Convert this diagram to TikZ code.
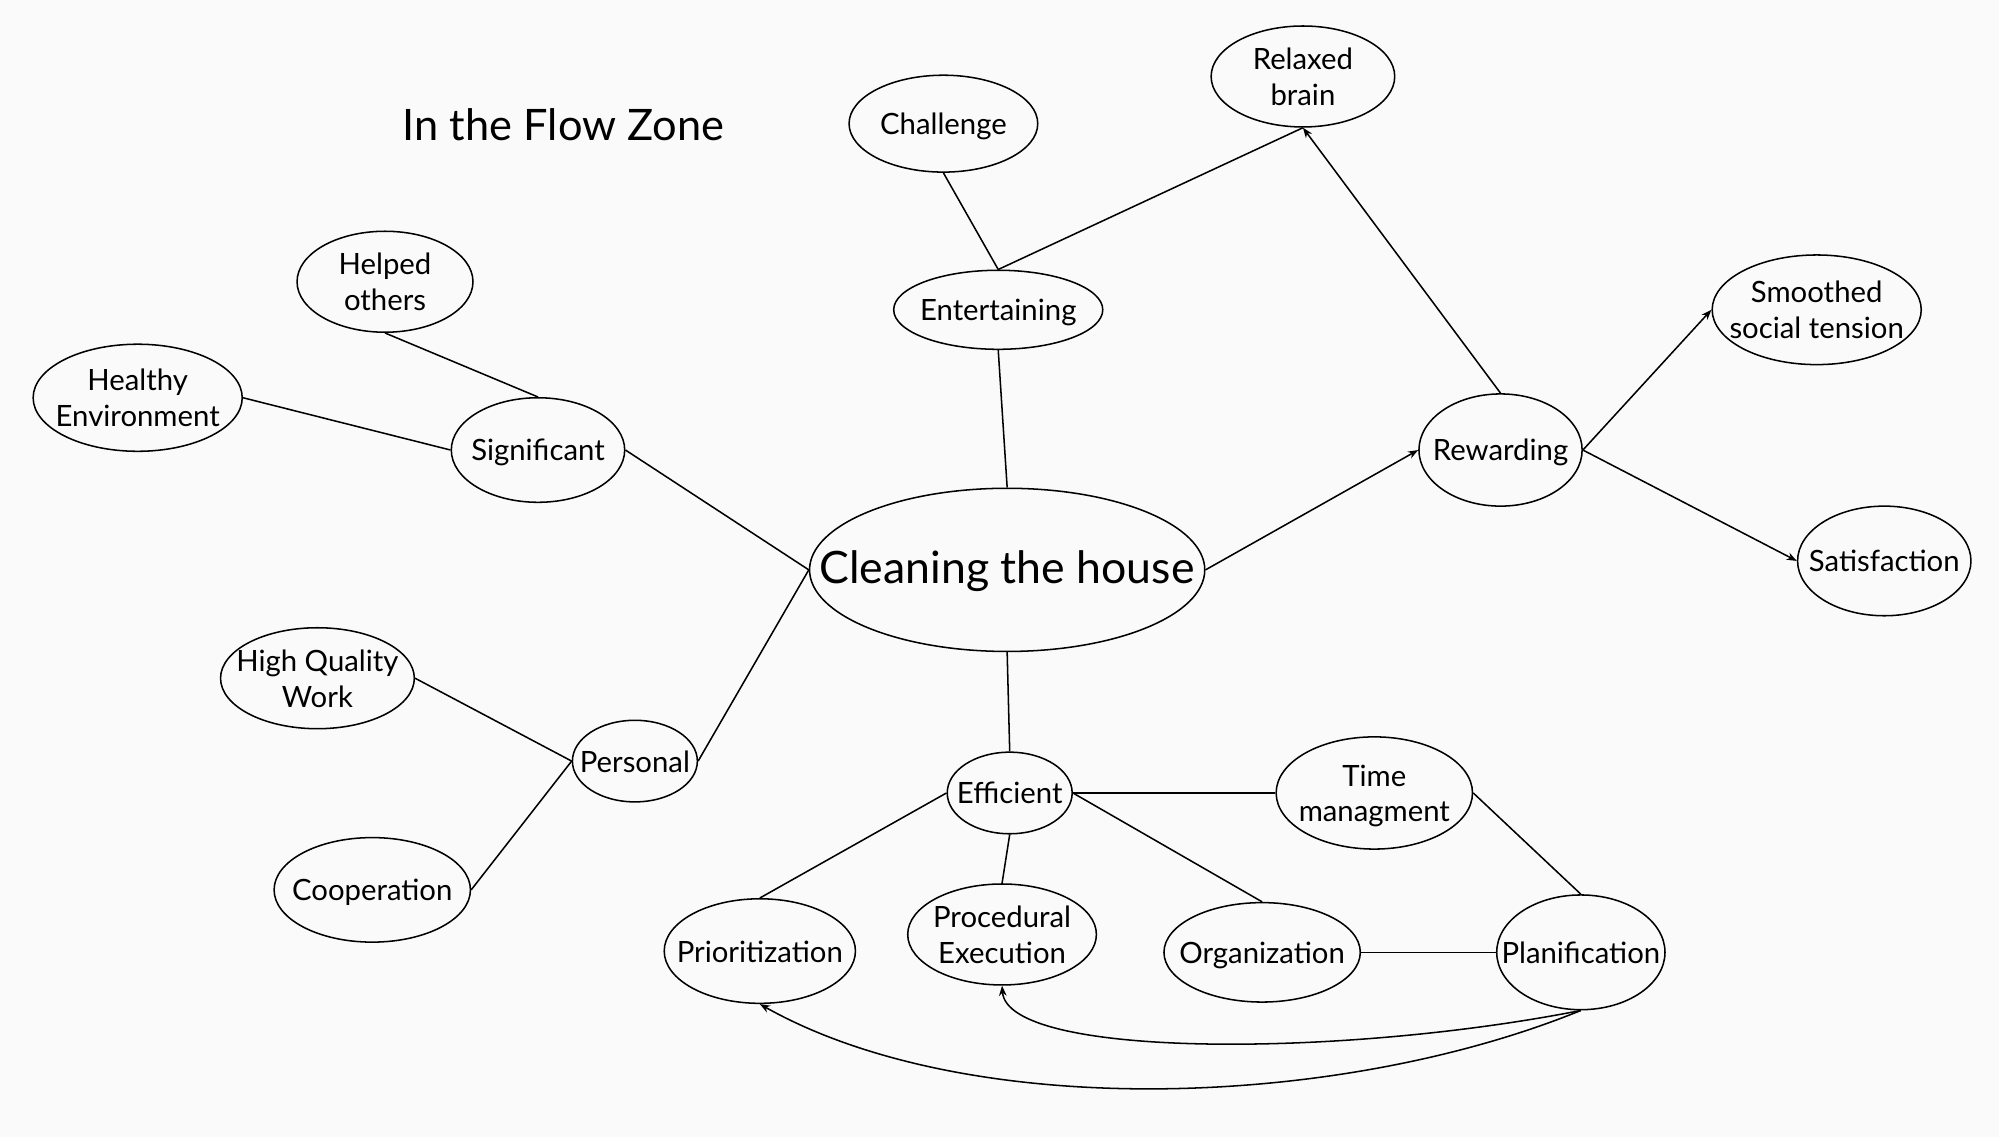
\documentclass[tikz,border=0pt]{standalone}
\usepackage{fontspec}
\setmainfont{Lato}
\usetikzlibrary{shapes.geometric,arrows.meta}
\newcommand{\bubfont}{\fontsize{11.5}{14}\selectfont}
\newcommand{\bt}[1]{\makebox[0pt]{\raisebox{-1.5pt}[\height][\depth]{\begin{tabular}{@{}c@{}}#1\end{tabular}}}}

\begin{document}
\begin{tikzpicture}[x=0.5pt,y=-0.5pt,line width=0.6pt,
    >={Stealth[length=4pt,width=3pt]},
    bub/.style={draw,ellipse,inner sep=0pt,font=\bubfont}]
   \fill[black!2] (0,0) rectangle (1568,892);
   \node[font=\fontsize{17}{20}\selectfont] (title) at (442,98) {In the Flow Zone};
   % centre
   \node[bub,minimum width=155pt,minimum height=64pt,font=\fontsize{17.5}{20}\selectfont] (clean) at (790,447) {\bt{Cleaning the house}};
   % top
   \node[bub,minimum width=74pt,minimum height=38pt] (chal)  at (740,97)  {\bt{Challenge}};
   \node[bub,minimum width=72pt,minimum height=37pt] (relax) at (1022,60) {\bt{Relaxed\\brain}};
   \node[bub,minimum width=82pt,minimum height=31pt] (ent)   at (783,243) {\bt{Entertaining}};
   % left
   \node[bub,minimum width=69pt,minimum height=38pt] (help)  at (302,221) {\bt{Helped\\others}};
   \node[bub,minimum width=82pt,minimum height=42pt] (healthy) at (108,312) {\bt{Healthy\\Environment}};
   \node[bub,minimum width=68pt,minimum height=41pt] (sig)   at (422,353) {\bt{Significant}};
   \node[bub,minimum width=76pt,minimum height=37pt] (hq)    at (249,532) {\bt{High Quality\\Work}};
   \node[bub,minimum width=49pt,minimum height=32pt] (pers)  at (498,597) {\bt{Personal}};
   \node[bub,minimum width=77pt,minimum height=41pt] (coop)  at (292,698) {\bt{Cooperation}};
   % right
   \node[bub,minimum width=64pt,minimum height=44pt] (rew)   at (1177,353) {\bt{Rewarding}};
   \node[bub,minimum width=82pt,minimum height=43pt] (smooth) at (1425,243) {\bt{Smoothed\\social tension}};
   \node[bub,minimum width=68pt,minimum height=43pt] (satis) at (1478,440) {\bt{Satisfaction}};
   % bottom
   \node[bub,minimum width=49pt,minimum height=32pt] (eff)   at (792,622) {\bt{Efficient}};
   \node[bub,minimum width=77pt,minimum height=44pt] (time)  at (1078,622) {\bt{Time\\managment}};
   \node[bub,minimum width=75pt,minimum height=41pt] (prio)  at (596,746) {\bt{Prioritization}};
   \node[bub,minimum width=74pt,minimum height=37pt] (proc)  at (786,733) {\bt{Procedural\\Execution}};
   \node[bub,minimum width=77pt,minimum height=39pt] (org)   at (990,747) {\bt{Organization}};
   \node[bub,minimum width=66pt,minimum height=45pt] (plan)  at (1240,747) {\bt{Planification}};
   % links
   \draw (chal.south) -- (ent.north);
   \draw (ent.north) -- (relax.south);
   \draw (ent.south) -- (clean.north);
   \draw (help.south) -- (sig.north);
   \draw (healthy.east) -- (sig.west);
   \draw (sig.east) -- (clean.west);
   \draw (clean.west) -- (pers.east);
   \draw (hq.east) -- (pers.west);
   \draw (coop.east) -- (pers.west);
   \draw[->] (clean.east) -- (rew.west);
   \draw[->] (rew.east) -- (smooth.west);
   \draw[->] (rew.east) -- (satis.west);
   \draw[->] (rew.north) -- (relax.south);
   \draw (clean.south) -- (eff.north);
   \draw (eff.east) -- (time.west);
   \draw (eff.west) -- (prio.north);
   \draw (eff.south) -- (proc.north);
   \draw (eff.east) -- (org.north);
   \draw (time.east) -- (plan.north);
   \draw (org.east) -- (plan.west);
   \draw[->] (plan.south) .. controls (1050,830) and (790,830) .. (proc.south);
   \draw[->] (plan.south) .. controls (1050,870) and (760,880) .. (prio.south);
\end{tikzpicture}
\end{document}
